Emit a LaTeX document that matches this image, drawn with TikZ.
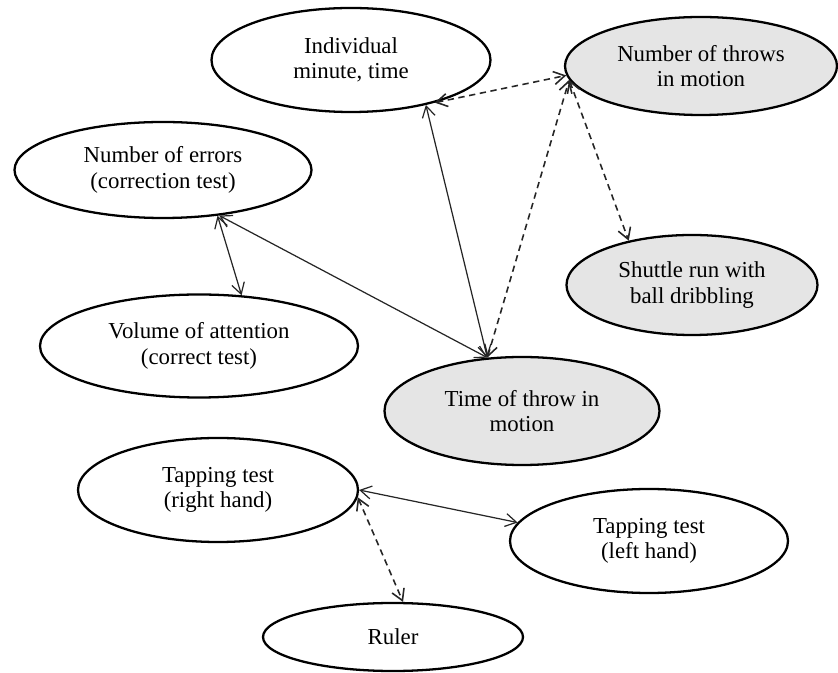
\documentclass[tikz,border=0pt]{standalone}
\usepackage{fontspec}
\setmainfont{Liberation Serif}
\usetikzlibrary{shapes.geometric,arrows.meta}

\tikzstyle{oval} = [draw, ellipse, line width=1.3pt, inner sep=0pt,
    align=center, font=\fontsize{13}{14.5}\selectfont]
\tikzstyle{shaded} = [oval, fill=gray!20]
\tikzstyle{link} = [<->, line width=0.7pt, black!85]
\tikzstyle{weak} = [link, line width=0.9pt, dash pattern=on 3.6pt off 2.6pt]

\begin{document}
\begin{tikzpicture}[>={Straight Barb[length=2.2mm,width=2.6mm]}]
    \useasboundingbox (0,0) rectangle (16.76,-13.46);
    % We start by placing the ovals
    \node [oval, minimum width=5.58cm, minimum height=2.08cm] (ind) at (7.02,-1.20) {Individual\\minute, time};
    \node [shaded, minimum width=5.44cm, minimum height=1.96cm] (thr) at (14.02,-1.32) {Number of throws\\in motion};
    \node [oval, minimum width=5.94cm, minimum height=1.92cm] (err) at (3.26,-3.40) {Number of errors\\(correction test)};
    \node [shaded, minimum width=5.02cm, minimum height=2.0cm] (shu) at (13.84,-5.70) {Shuttle run with\\ball dribbling};
    \node [oval, minimum width=6.36cm, minimum height=2.06cm] (vol) at (3.98,-6.92) {Volume of attention\\(correct test)};
    \node [shaded, minimum width=5.5cm, minimum height=2.16cm] (tim) at (10.44,-8.22) {Time of throw in\\motion};
    \node [oval, minimum width=5.6cm, minimum height=2.08cm] (tpr) at (4.36,-9.80) {Tapping test\\(right hand)};
    \node [oval, minimum width=5.56cm, minimum height=2.08cm] (tpl) at (12.98,-10.82) {Tapping test\\(left hand)};
    \node [oval, minimum width=5.2cm, minimum height=1.36cm] (rul) at (7.86,-12.74) {Ruler};

    % Then the links
    \draw [weak] (ind.-27) -- (thr.184);
    \draw [link] (tim.123) -- (ind.-31);
    \draw [weak] (tim.123) -- (thr.-174);
    \draw [weak] (thr.-174) -- (shu.145);
    \draw [link] (err.-40) -- (vol.50);
    \draw [link] (err.-39) -- (tim.123);
    \draw [link] (tpr.0) -- (tpl.172);
    \draw [weak] (tpr.-3) -- (rul.74);
\end{tikzpicture}
\end{document}
